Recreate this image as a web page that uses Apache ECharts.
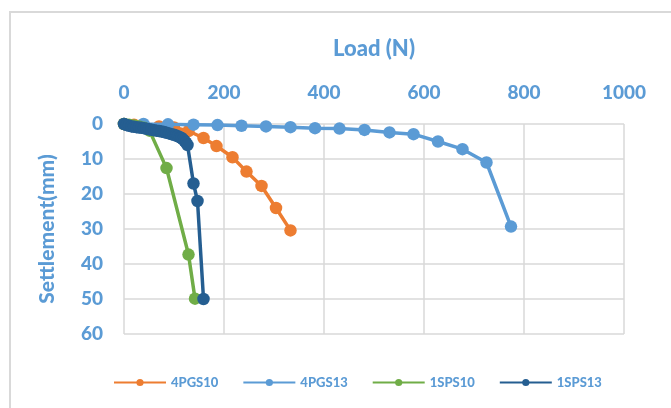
<!DOCTYPE html>
<html>
<head>
<meta charset="utf-8">
<script src="https://cdn.jsdelivr.net/npm/echarts@6/dist/echarts.min.js"></script>
<style>
html,body{margin:0;padding:0;background:#fff;}
#c{width:671px;height:408px;}
</style>
</head>
<body>
<div id="c"></div>
<script>
const seriesNames = ['4PGS10', '4PGS13', '1SPS10', '1SPS13'];
const xTicks = [0, 200, 400, 600, 800, 1000];
const yTicks = [0, 10, 20, 30, 40, 50, 60];

const load4PGS10 = [0, 20, 40, 70, 100, 129, 159, 185, 217, 245, 275, 304, 333];
const settle4PGS10 = [0, 0.2, 0.4, 0.7, 1.0, 2.0, 4.0, 6.3, 9.5, 13.6, 17.7, 24.0, 30.4];

const load4PGS13 = [0, 39, 88, 139, 187, 235, 284, 333, 382, 431, 481, 531, 579, 628, 677, 725, 774];
const settle4PGS13 = [0, 0, 0.1, 0.2, 0.3, 0.5, 0.7, 0.9, 1.2, 1.3, 1.7, 2.4, 2.9, 5.0, 7.2, 11.0, 29.3];

const load1SPS10 = [0, 10, 20, 30, 40, 51, 85, 129, 142];
const settle1SPS10 = [0, 0.2, 0.4, 0.7, 1.1, 1.9, 12.6, 37.3, 49.9];

const load1SPS13 = [0, 5, 10, 15, 20, 25, 30, 35, 40, 45, 50, 55, 60, 65, 70, 75, 80, 85, 90, 95, 100, 104, 108, 112, 115, 118, 121, 124, 127, 139, 147, 159];
const settle1SPS13 = [0, 0.3, 0.5, 0.7, 0.8, 0.9, 1.0, 1.1, 1.2, 1.35, 1.5, 1.65, 1.8, 1.9, 2.0, 2.15, 2.3, 2.5, 2.7, 2.9, 3.1, 3.3, 3.5, 3.8, 4.0, 4.4, 4.8, 5.3, 6.0, 17.0, 22.0, 50.0];

const colors = ['#ED7D31', '#5B9BD5', '#70AD47', '#255E91'];
const textBlue = '#5B9BD5';
const font = 'Lato';

function pairs(xs, ys) { return xs.map((x, i) => [x, ys[i]]); }
const datasets = [
  pairs(load4PGS10, settle4PGS10),
  pairs(load4PGS13, settle4PGS13),
  pairs(load1SPS10, settle1SPS10),
  pairs(load1SPS13, settle1SPS13)
];

const chart = echarts.init(document.getElementById('c'), null, {renderer: 'canvas'});
chart.setOption({
  animation: false,
  color: colors,
  graphic: [{
    type: 'rect', left: 9, top: 11, z: -10,
    shape: {x: 0, y: 0, width: 720, height: 430},
    style: {fill: '#fff', stroke: '#D9D9D9', lineWidth: 2}
  }],
  grid: {left: 124, right: 47, top: 124, bottom: 74, containLabel: false},
  xAxis: {
    type: 'value', position: 'top', min: xTicks[0], max: xTicks[xTicks.length - 1], interval: 200,
    name: 'Load (N)', nameLocation: 'middle', nameGap: 64,
    nameTextStyle: {color: textBlue, fontFamily: font, fontWeight: 900, fontSize: 22},
    axisLine: {show: false}, axisTick: {show: false},
    axisLabel: {color: textBlue, fontFamily: font, fontWeight: 900, fontSize: 19, margin: 22,
      formatter: v => String(v)},
    splitLine: {show: true, lineStyle: {color: '#D9D9D9', width: 1.5}}
  },
  yAxis: {
    type: 'value', inverse: true, min: yTicks[0], max: yTicks[yTicks.length - 1], interval: 10,
    name: 'Settlement(mm)', nameLocation: 'middle', nameGap: 66, nameRotate: 90,
    nameTextStyle: {color: textBlue, fontFamily: font, fontWeight: 900, fontSize: 21},
    axisLine: {show: false}, axisTick: {show: false},
    axisLabel: {color: textBlue, fontFamily: font, fontWeight: 900, fontSize: 19, margin: 21},
    splitLine: {show: true, lineStyle: {color: '#D9D9D9', width: 1.5}}
  },
  legend: {
    left: 108, top: 371, itemWidth: 52, itemHeight: 9, itemGap: 24,
    textStyle: {color: textBlue, fontFamily: font, fontWeight: 900, fontSize: 13},
    data: seriesNames
  },
  series: seriesNames.map((n, i) => ({
    name: n, type: 'line', data: datasets[i], z: 2 + i,
    symbol: 'circle', symbolSize: 12.5, showSymbol: true,
    lineStyle: {width: 3.5, color: colors[i]},
    itemStyle: {color: colors[i]}
  }))
});
</script>
</body>
</html>
